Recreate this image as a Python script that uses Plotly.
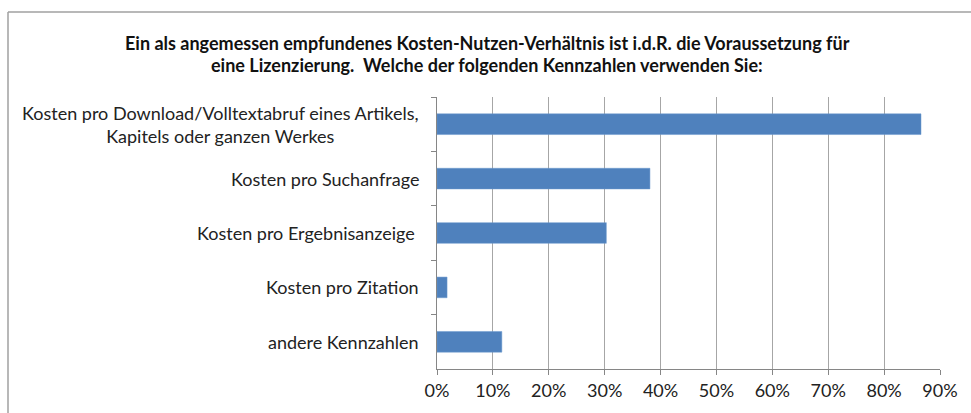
import plotly.graph_objects as go

categories = [
    "Kosten pro Download/Volltextabruf eines Artikels,<br>Kapitels oder ganzen Werkes",
    "Kosten pro Suchanfrage",
    "Kosten pro Ergebnisanzeige ",
    "Kosten pro Zitation",
    "andere Kennzahlen",
]
values = [0.866, 0.381, 0.303, 0.018, 0.116]
x_ticks = [0, 0.1, 0.2, 0.3, 0.4, 0.5, 0.6, 0.7, 0.8, 0.9]
x_tick_labels = ["0%", "10%", "20%", "30%", "40%", "50%", "60%", "70%", "80%", "90%"]
title_lines = [
    "Ein als angemessen empfundenes Kosten-Nutzen-Verhältnis ist i.d.R. die Voraussetzung für",
    "eine Lizenzierung.  Welche der folgenden Kennzahlen verwenden Sie:",
]

W, H = 971, 413
L, R, T, B = 437, 31, 97, 38
pw, ph = W - L - R, H - T - B


def px_x(x):
    return (x - L) / pw


def px_y(y):
    return 1 - (y - T) / ph


fig = go.Figure(go.Bar(
    x=values, y=categories, orientation="h",
    marker=dict(color="#4F81BD", line=dict(color="#6A98CF", width=0.5)),
    width=0.38,
))

annotations = []
for c in categories:
    annotations.append(dict(
        x=px_x(421), xref="paper", y=c, yref="y",
        text=c, showarrow=False, xanchor="right", align="center",
        font=dict(family="Lato", size=18, color="#222222"),
    ))
for line, yc in zip(title_lines, [42, 64]):
    annotations.append(dict(
        x=px_x(487), xref="paper", y=px_y(yc), yref="paper",
        text="<b>" + line + "</b>", showarrow=False, xanchor="center", yanchor="middle",
        align="center", font=dict(family="Lato", size=18, color="#111111"),
    ))

frame_style = dict(color="#A0A0A0", width=1.5)
fig.update_layout(
    width=W, height=H,
    margin=dict(l=L, r=R, t=T, b=B, pad=0),
    paper_bgcolor="white", plot_bgcolor="white",
    showlegend=False,
    annotations=annotations,
    xaxis=dict(
        range=[0, 0.9], tickvals=x_ticks, ticktext=x_tick_labels,
        showgrid=True, gridcolor="#A6A6A6", gridwidth=1,
        showline=True, linecolor="#868686", linewidth=1,
        ticks="outside", ticklen=5, tickcolor="#868686",
        tickfont=dict(family="Lato", size=18, color="#222222"),
        zeroline=False, fixedrange=True,
    ),
    yaxis=dict(
        categoryorder="array", categoryarray=categories, autorange="reversed",
        showticklabels=False, showgrid=False,
        showline=True, linecolor="#868686", linewidth=1,
        ticks="outside", ticklen=5, tickcolor="#868686", tickson="boundaries",
        zeroline=False,
    ),
    shapes=[
        dict(type="line", xref="paper", yref="paper",
             x0=px_x(8), x1=px_x(975), y0=px_y(10), y1=px_y(10), line=frame_style),
        dict(type="line", xref="paper", yref="paper",
             x0=px_x(8), x1=px_x(8), y0=px_y(10), y1=px_y(420), line=frame_style),
    ],
)

fig.write_html(
    "out.html",
    config={"displayModeBar": False},
    post_script="document.body.style.margin='0';document.body.style.overflow='hidden';",
)
